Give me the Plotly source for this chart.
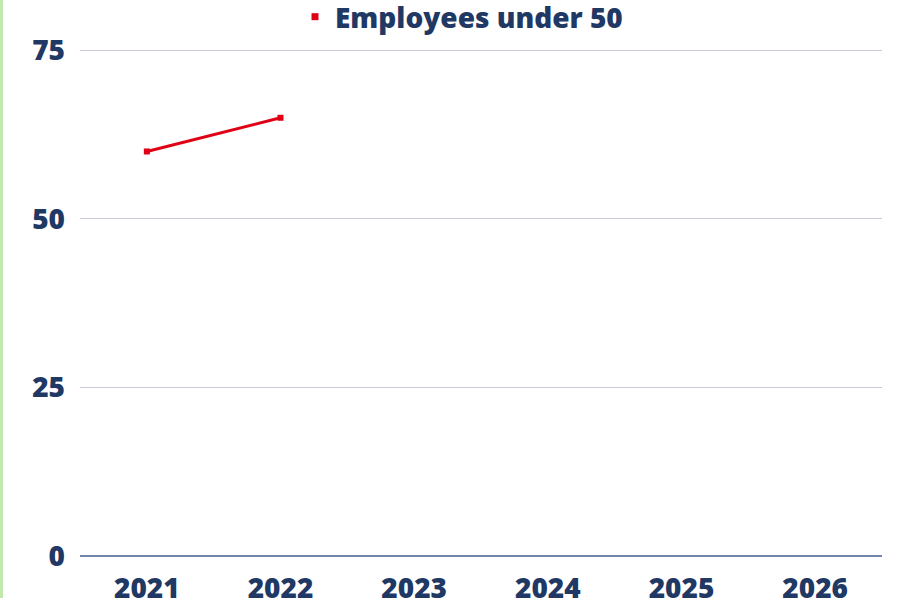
import plotly.graph_objects as go

years = ["2021", "2022", "2023", "2024", "2025", "2026"]
under50 = [60, 65, None, None, None, None]
series_name = "Employees under 50"
y_ticks = [0, 25, 50, 75]

navy = "#1f3864"
red = "#e00016"
font_family = "Open Sans, sans-serif"

fig = go.Figure()
fig.add_trace(go.Scatter(
    x=years, y=under50, mode="lines+markers",
    line=dict(color=red, width=3),
    marker=dict(symbol="square", size=6, color=red),
    showlegend=False, connectgaps=False,
))
fig.add_trace(go.Scatter(
    x=[None], y=[None], mode="markers", name=series_name,
    marker=dict(symbol="square", size=7, color=red),
))

fig.update_layout(
    width=904, height=598,
    margin=dict(l=80, r=22, t=49, b=42, autoexpand=False),
    paper_bgcolor="white", plot_bgcolor="white",
    font=dict(family=font_family, color=navy, size=28),
    legend=dict(
        orientation="h", x=(295 - 80) / 802, xanchor="left",
        y=1.0 + 7 / 506, yanchor="bottom",
        font=dict(family=font_family, size=28, color=navy, weight=800),
        itemwidth=30, bgcolor="rgba(0,0,0,0)",
    ),
    xaxis=dict(
        type="category", categoryorder="array", categoryarray=years,
        range=[-0.5, len(years) - 0.5],
        tickvals=years, showgrid=False, showline=False, zeroline=False,
        tickfont=dict(family=font_family, size=28, color=navy, weight=800),
        ticks="", ticklabelstandoff=13, automargin=False,
    ),
    yaxis=dict(
        range=[0, 75.2], tickvals=y_ticks, showgrid=True, gridcolor="#c9cdda",
        gridwidth=1, zeroline=True, zerolinecolor="#7286ad", zerolinewidth=1.5,
        showline=False,
        tickfont=dict(family=font_family, size=28, color=navy, weight=800),
        ticks="", ticklabelstandoff=14, automargin=False,
    ),
    shapes=[dict(
        type="rect", xref="paper", yref="paper",
        x0=-80 / 802, x1=-77 / 802, y0=-0.2, y1=1.2,
        fillcolor="#c3e8ad", line=dict(width=0), layer="above",
    )],
)

fig.write_html(
    "out.html",
    config={"displayModeBar": False},
    post_script="document.body.style.margin='0';document.body.style.overflow='hidden';",
)
